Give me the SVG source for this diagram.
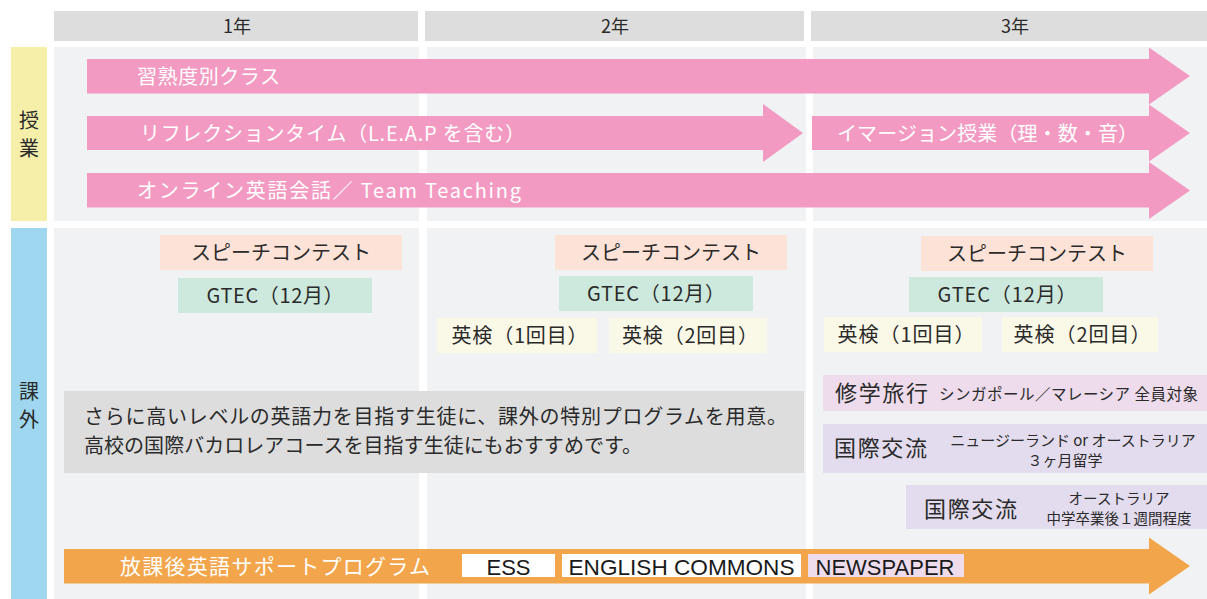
<svg xmlns="http://www.w3.org/2000/svg" width="1207" height="599" viewBox="0 0 1207 599">
<style>
.hd{fill:#dddddd}
.pn{fill:#f1f2f4}
.t{font-family:"Noto Sans CJK JP","Noto Sans",sans-serif}
.dk{fill:#2a2a2a}
.wh{fill:#ffffff}
.pink{fill:#f39ac2}
.org{fill:#f2a54a}
.sp{fill:#fde2d8}
.gt{fill:#cde8dc}
.ek{fill:#faf8e6}
.pu1{fill:#eedcec}
.pu2{fill:#e3dcee}
.lat{font-family:"Liberation Sans",Arial,sans-serif;font-size:22px;fill:#1a1a1a}
</style>
<rect x="0" y="0" width="1207" height="599" fill="#ffffff"/>
<g id="headers">
<rect class="hd" x="54" y="11" width="364" height="30"/>
<rect class="hd" x="425" y="11" width="379" height="30"/>
<rect class="hd" x="811" y="11" width="396" height="30"/>
<text class="t dk" x="237" y="33" font-size="18" text-anchor="middle">1年</text>
<text class="t dk" x="615" y="33" font-size="18" text-anchor="middle">2年</text>
<text class="t dk" x="1015" y="33" font-size="18" text-anchor="middle">3年</text>
</g>
<g id="panels">
<rect class="pn" x="54" y="47" width="365" height="174"/>
<rect class="pn" x="427" y="47" width="379" height="174"/>
<rect class="pn" x="813" y="47" width="394" height="174"/>
<rect class="pn" x="54" y="228" width="365" height="371"/>
<rect class="pn" x="427" y="228" width="379" height="371"/>
<rect class="pn" x="813" y="228" width="394" height="371"/>
</g>
<g id="label-jugyo">
<rect x="11" y="47" width="36" height="174" fill="#f5efaa"/>
<text class="t dk" x="29" y="127.6" font-size="20" text-anchor="middle">授</text>
<text class="t dk" x="29" y="155.6" font-size="20" text-anchor="middle">業</text>
</g>
<g id="label-kagai">
<rect x="11" y="228" width="36" height="371" fill="#a0d7f0"/>
<text class="t dk" x="29" y="398.6" font-size="20" text-anchor="middle">課</text>
<text class="t dk" x="29" y="426.6" font-size="20" text-anchor="middle">外</text>
</g>
<g id="connectors">
<g id="arrow-shujukudo">
<polygon class="pink" points="87,59 1149,59 1149,47.5 1190,76 1149,104.5 1149,93.5 87,93.5"/>
<text class="t wh" x="137" y="83.6" font-size="20" textLength="143" lengthAdjust="spacing">習熟度別クラス</text>
</g>
<g id="arrow-reflection">
<polygon class="pink" points="87,116 763,116 763,104 803,133 763,162 763,150 87,150"/>
<text class="t wh" x="140" y="140.6" font-size="20" textLength="385" lengthAdjust="spacing">リフレクションタイム（L.E.A.P を含む）</text>
</g>
<g id="arrow-immersion">
<polygon class="pink" points="812,116 1149,116 1149,104.5 1190,133 1149,161.5 1149,150 812,150"/>
<text class="t wh" x="837" y="140.6" font-size="20" textLength="301" lengthAdjust="spacing">イマージョン授業（理・数・音）</text>
</g>
<g id="arrow-online">
<polygon class="pink" points="87,173 1149,173 1149,162 1190,190.5 1149,219 1149,207.5 87,207.5"/>
<text class="t wh" x="137" y="197.6" font-size="20" textLength="384" lengthAdjust="spacing">オンライン英語会話／ Team Teaching</text>
</g>
<g id="arrow-afterschool">
<polygon class="org" points="64,549 1149,549 1149,537.5 1190,566 1149,594.5 1149,583.5 64,583.5"/>
<text class="t wh" x="120" y="574" font-size="21" textLength="310" lengthAdjust="spacing">放課後英語サポートプログラム</text>
</g>
</g>
<g id="speech-1">
<rect class="sp" x="160" y="235" width="242" height="35"/>
<text class="t dk" x="281" y="260" font-size="20" text-anchor="middle">スピーチコンテスト</text>
</g>
<g id="gtec-1">
<rect class="gt" x="178" y="278" width="194" height="35"/>
<text class="t dk" x="275" y="303" font-size="20" text-anchor="middle" textLength="137" lengthAdjust="spacing">GTEC（12月）</text>
</g>
<g id="speech-2">
<rect class="sp" x="555" y="235" width="232" height="35"/>
<text class="t dk" x="671" y="260" font-size="20" text-anchor="middle">スピーチコンテスト</text>
</g>
<g id="gtec-2">
<rect class="gt" x="559" y="276" width="194" height="35"/>
<text class="t dk" x="656" y="301" font-size="20" text-anchor="middle" textLength="138" lengthAdjust="spacing">GTEC（12月）</text>
</g>
<g id="eiken1-2">
<rect class="ek" x="437" y="318" width="160" height="35"/>
<text class="t dk" x="519.5" y="343" font-size="20" text-anchor="middle" textLength="136" lengthAdjust="spacing">英検（1回目）</text>
</g>
<g id="eiken2-2">
<rect class="ek" x="609" y="318" width="158" height="35"/>
<text class="t dk" x="690" y="343" font-size="20" text-anchor="middle" textLength="136" lengthAdjust="spacing">英検（2回目）</text>
</g>
<g id="speech-3">
<rect class="sp" x="921" y="236" width="232" height="35"/>
<text class="t dk" x="1037" y="261" font-size="20" text-anchor="middle">スピーチコンテスト</text>
</g>
<g id="gtec-3">
<rect class="gt" x="909" y="277" width="194" height="35"/>
<text class="t dk" x="1007" y="302" font-size="20" text-anchor="middle" textLength="139" lengthAdjust="spacing">GTEC（12月）</text>
</g>
<g id="eiken1-3">
<rect class="ek" x="824" y="317" width="158" height="35"/>
<text class="t dk" x="906" y="342" font-size="20" text-anchor="middle" textLength="137" lengthAdjust="spacing">英検（1回目）</text>
</g>
<g id="eiken2-3">
<rect class="ek" x="1002" y="317" width="156" height="35"/>
<text class="t dk" x="1082" y="342" font-size="20" text-anchor="middle" textLength="137" lengthAdjust="spacing">英検（2回目）</text>
</g>
<g id="note">
<rect x="64" y="391" width="740" height="82" fill="#dddddd"/>
<text class="t dk" x="84" y="424" font-size="20" textLength="703" lengthAdjust="spacing">さらに高いレベルの英語力を目指す生徒に、課外の特別プログラムを用意。</text>
<text class="t dk" x="84" y="452.6" font-size="20" textLength="558" lengthAdjust="spacing">高校の国際バカロレアコースを目指す生徒にもおすすめです。</text>
</g>
<g id="shugaku">
<rect class="pu1" x="823" y="375" width="384" height="36"/>
<text class="t dk" x="835" y="401.4" font-size="22" textLength="93" lengthAdjust="spacing">修学旅行</text>
<text class="t dk" x="939" y="399.7" font-size="15.5" textLength="259" lengthAdjust="spacing">シンガポール／マレーシア 全員対象</text>
</g>
<g id="kokusai-1">
<rect class="pu2" x="823" y="424" width="384" height="49"/>
<text class="t dk" x="834" y="456.4" font-size="22" textLength="93" lengthAdjust="spacing">国際交流</text>
<text class="t dk" x="1073" y="445.7" font-size="15" text-anchor="middle">ニュージーランド or オーストラリア</text>
<text class="t dk" x="1065" y="465.7" font-size="15" text-anchor="middle">３ヶ月留学</text>
</g>
<g id="kokusai-2">
<rect class="pu2" x="906" y="485" width="301" height="44"/>
<text class="t dk" x="924" y="516.9" font-size="22" textLength="93" lengthAdjust="spacing">国際交流</text>
<text class="t dk" x="1119" y="504" font-size="14.5" text-anchor="middle">オーストラリア</text>
<text class="t dk" x="1119" y="524" font-size="14.5" text-anchor="middle">中学卒業後１週間程度</text>
</g>
<g id="ess">
<rect x="462" y="554" width="93" height="23" fill="#ffffff"/>
<text class="lat" x="508.5" y="575" text-anchor="middle">ESS</text>
</g>
<g id="english-commons">
<rect x="562" y="554" width="239" height="23" fill="#ffffff"/>
<text class="lat" x="681.5" y="575" text-anchor="middle" textLength="226" lengthAdjust="spacingAndGlyphs">ENGLISH COMMONS</text>
</g>
<g id="newspaper">
<rect class="pu1" x="808" y="554" width="156" height="23"/>
<text class="lat" x="885" y="575" text-anchor="middle">NEWSPAPER</text>
</g>
</svg>
